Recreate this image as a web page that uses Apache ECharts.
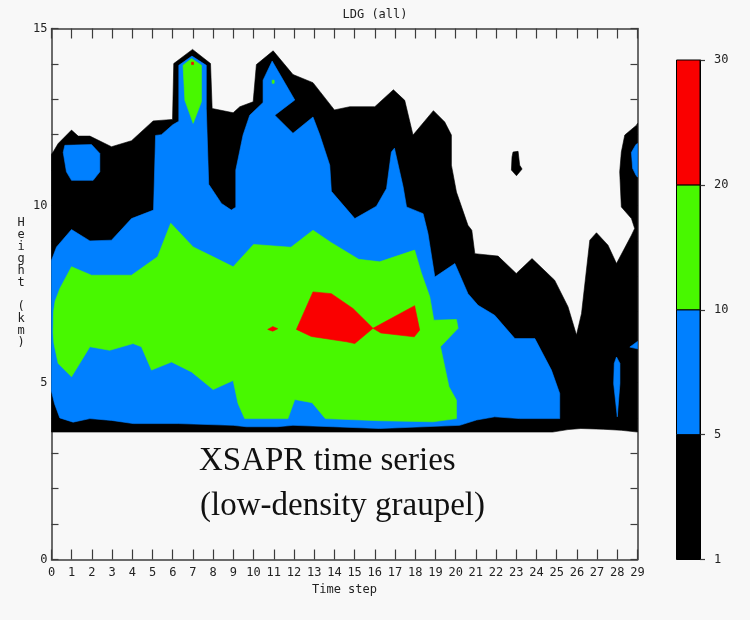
<!DOCTYPE html>
<html>
<head>
<meta charset="utf-8">
<title>LDG (all)</title>
<script src="https://cdn.jsdelivr.net/npm/echarts@6/dist/echarts.min.js"></script>
<style>
  html, body { margin: 0; padding: 0; background: #f8f8f8; }
  #chart { width: 750px; height: 620px; }
</style>
</head>
<body>
<div id="chart"></div>
<script>
// Contour levels of the low-density graupel field and the legend labels
const levels = [1, 5, 10, 20, 30];

// Outlines of the filled contour regions, as [time step, height (km)] vertices.
// Region where the field is >= 1
const ge1Main = [
  [0, 3.6], [0, 11.45], [0.08, 11.51], [0.33, 11.75], [0.99, 12.13], [1.32, 11.96], [1.9, 11.96],
  [2.97, 11.66], [3.96, 11.83], [5.03, 12.39], [5.99, 12.43], [6.05, 14.01], [6.98, 14.41],
  [7.87, 14.01], [7.95, 12.74], [8.99, 12.62], [9.32, 12.79], [9.98, 12.93], [10.14, 13.98],
  [10.97, 14.37], [11.95, 13.7], [12.94, 13.47], [14.0, 12.7], [14.76, 12.79], [16.0, 12.79],
  [16.92, 13.27], [17.48, 12.97], [17.89, 11.99], [18.9, 12.68], [19.46, 12.36], [19.79, 11.99],
  [19.79, 11.14], [20.04, 10.38], [20.61, 9.44], [20.8, 9.3], [20.95, 8.64], [22.1, 8.57],
  [23.0, 8.08], [23.78, 8.5], [24.9, 7.89], [25.56, 7.14], [25.98, 6.34], [26.23, 6.95],
  [26.64, 9.02], [26.97, 9.23], [27.54, 8.88], [27.96, 8.36], [28.7, 9.16], [28.86, 9.35],
  [28.7, 9.63], [28.2, 9.96], [28.12, 10.95], [28.2, 11.51], [28.37, 11.99], [28.95, 12.27],
  [29, 12.32], [29, 3.6], [28.2, 3.65], [27.3, 3.68], [26.2, 3.7], [25.56, 3.67], [24.8, 3.6]
];
const ge1Blob = [
  [22.84, 11.51], [23.09, 11.53], [23.17, 11.14], [23.29, 11.03], [23.01, 10.84], [22.76, 11.0], [22.79, 11.37]
];

// Region where the field is >= 5
const ge5Main = [
  [0, 4.75], [0, 8.45], [0.25, 8.83], [0.99, 9.32], [1.9, 9.0], [2.97, 9.02], [3.96, 9.63],
  [5.05, 9.87], [5.15, 11.98], [5.44, 12.0], [6.0, 12.28], [6.3, 12.38], [6.3, 13.96],
  [6.95, 14.22], [7.66, 13.96], [7.66, 12.75], [7.78, 10.6], [8.41, 10.06], [8.9, 9.87],
  [9.12, 9.95], [9.12, 11.0], [9.48, 11.99], [9.81, 12.55], [10.47, 12.91], [10.47, 13.54],
  [10.92, 14.08], [12.04, 12.98], [11.05, 12.55], [11.95, 12.04], [12.94, 12.5], [13.28, 11.99],
  [13.77, 11.14], [13.85, 10.4], [15.01, 9.63], [16.08, 9.98], [16.58, 10.48], [16.82, 11.51],
  [16.97, 11.62], [17.4, 10.53], [17.57, 9.96], [18.39, 9.77], [18.63, 9.21], [18.97, 7.98],
  [19.96, 8.36], [20.61, 7.51], [21.11, 7.18], [21.93, 6.9], [22.93, 6.24], [23.92, 6.24],
  [24.74, 5.35], [25.15, 4.69], [25.15, 3.98], [23.17, 3.98], [21.93, 4.03], [21.03, 3.94],
  [20.2, 3.79], [16.24, 3.7], [13.94, 3.75], [11.95, 3.79], [11.18, 3.75], [9.65, 3.75],
  [8.99, 3.79], [6.27, 3.84], [4.04, 3.84], [2.97, 3.93], [1.9, 3.98], [1.07, 3.88],
  [0.41, 4.0], [0.15, 4.4]
];
const ge5Blob = [
  [0.58, 11.5], [0.66, 11.7], [1.98, 11.72], [2.39, 11.47], [2.39, 10.95], [2.06, 10.71],
  [0.99, 10.71], [0.74, 10.95]
];
const ge5EdgeHigh = [[28.7, 11.5], [28.92, 11.72], [29, 11.75], [29, 10.8], [28.92, 10.86], [28.76, 11.05]];
const ge5Sliver = [[27.96, 5.72], [28.13, 5.54], [28.13, 4.97], [28.0, 4.03], [27.82, 4.97], [27.85, 5.54]];
const ge5EdgeLow = [[28.62, 6.0], [29, 6.16], [29, 5.95]];

// Region where the field is >= 10
const ge10Main = [
  [0.08, 6.4], [0.1, 7.0], [0.18, 7.3], [0.41, 7.65], [0.99, 8.27], [1.98, 8.03], [3.96, 8.03],
  [5.25, 8.55], [5.9, 9.5], [7.01, 8.83], [8.0, 8.55], [8.99, 8.27], [10.0, 8.9], [11.85, 8.82],
  [12.94, 9.3], [13.85, 8.95], [15.2, 8.48], [16.24, 8.41], [17.97, 8.74], [18.3, 8.1],
  [18.72, 7.42], [18.92, 6.76], [20.04, 6.78], [20.12, 6.53], [19.25, 6.01], [19.67, 4.88],
  [20.04, 4.5], [20.04, 3.98], [18.88, 3.89], [16.24, 3.92], [13.55, 3.98], [12.9, 4.43],
  [12.04, 4.52], [11.7, 3.98], [9.56, 3.98], [9.23, 4.41], [8.99, 5.06], [8.0, 4.8],
  [6.93, 5.3], [5.94, 5.58], [4.95, 5.35], [4.45, 6.01], [4.04, 6.1], [2.88, 5.91],
  [1.9, 6.01], [0.99, 5.16], [0.33, 5.54], [0.12, 6.1]
];
const ge10Spire = [[6.51, 13.96], [6.93, 14.15], [7.42, 13.96], [7.42, 12.93], [7.01, 12.32], [6.6, 12.97]];
const ge10Speck = [[10.92, 13.45], [11.02, 13.45], [11.02, 13.54], [10.92, 13.54]];

// Region where the field is >= 20
const ge20Main = [
  [12.12, 6.5], [12.94, 7.56], [13.85, 7.51], [14.92, 7.09], [15.91, 6.53], [15.01, 6.1],
  [14.6, 6.15], [12.86, 6.3]
];
const ge20East = [[15.91, 6.53], [17.97, 7.17], [18.22, 6.48], [17.95, 6.29], [16.3, 6.4]];
const ge20Sliver = [[10.7, 6.5], [10.95, 6.58], [11.2, 6.52], [10.95, 6.45]];
const ge20Speck = [[6.93, 13.98], [7.03, 13.98], [7.03, 14.05], [6.93, 14.05]];

// Layers painted from the lowest level upwards
const layerPolys = [
  [ge1Main, ge1Blob],
  [ge5Main, ge5Blob, ge5EdgeHigh, ge5Sliver, ge5EdgeLow],
  [ge10Main, ge10Spire, ge10Speck],
  [ge20Main, ge20East, ge20Sliver, ge20Speck]
];

const bandColors = ['#000000', '#0080ff', '#48f800', '#fa0000'];
const axisColor = '#3c3c3c';
const mono = 'DejaVu Sans Mono';

function contourSeries(polys, color) {
  return {
    type: 'custom',
    xAxisIndex: 0,
    yAxisIndex: 0,
    clip: true,
    silent: true,
    data: polys.map(p => p[0]),
    renderItem: function (params, api) {
      const pts = polys[params.dataIndex].map(v => api.coord(v));
      return {
        type: 'polygon',
        shape: { points: pts },
        style: { fill: color, stroke: color, lineWidth: 0.6 }
      };
    }
  };
}

const series = layerPolys.map((polys, i) => contourSeries(polys, bandColors[i]));

// Colour bar: one box per band between consecutive levels
series.push({
  type: 'custom',
  xAxisIndex: 2,
  yAxisIndex: 2,
  silent: true,
  data: bandColors.map((c, i) => [0, i]),
  renderItem: function (params, api) {
    const i = params.dataIndex;
    const p0 = api.coord([0, i]);
    const p1 = api.coord([1, i + 1]);
    return {
      type: 'rect',
      shape: { x: p0[0], y: p1[1], width: p1[0] - p0[0], height: p0[1] - p1[1] },
      style: { fill: bandColors[i], stroke: '#000', lineWidth: 1 }
    };
  }
});

const frameLine = { show: true, onZero: false, lineStyle: { color: axisColor, width: 1.5 } };
const frameTick = (len) => ({ show: true, inside: true, length: len, lineStyle: { color: axisColor, width: 1.2 } });

const chart = echarts.init(document.getElementById('chart'), null, { renderer: 'canvas' });

chart.setOption({
  backgroundColor: '#f8f8f8',
  animation: false,
  grid: [
    { left: 51.5, top: 28.5, width: 586, height: 531 },
    { left: 676.5, top: 60, width: 23.5, height: 499.5 }
  ],
  xAxis: [
    {
      type: 'value', gridIndex: 0, position: 'bottom', min: 0, max: 29, interval: 1,
      name: 'Time step', nameLocation: 'middle', nameGap: 24,
      nameTextStyle: { fontFamily: mono, fontSize: 12, color: '#222' },
      axisLine: frameLine,
      axisTick: frameTick(10),
      axisLabel: { fontFamily: mono, fontSize: 12, color: '#222', margin: 7 },
      splitLine: { show: false }
    },
    {
      type: 'value', gridIndex: 0, position: 'top', min: 0, max: 29, interval: 1,
      axisLine: frameLine,
      axisTick: frameTick(10),
      axisLabel: { show: false },
      splitLine: { show: false }
    },
    {
      type: 'value', gridIndex: 1, min: 0, max: 1, show: false
    }
  ],
  yAxis: [
    {
      type: 'value', gridIndex: 0, position: 'left', min: 0, max: 15, interval: 1,
      axisLine: frameLine,
      axisTick: frameTick(7),
      axisLabel: {
        fontFamily: mono, fontSize: 12, color: '#222', margin: 4,
        formatter: v => (v % 5 === 0 ? String(v) : '')
      },
      splitLine: { show: false }
    },
    {
      type: 'value', gridIndex: 0, position: 'right', min: 0, max: 15, interval: 1,
      axisLine: frameLine,
      axisTick: frameTick(7),
      axisLabel: { show: false },
      splitLine: { show: false }
    },
    {
      type: 'value', gridIndex: 1, position: 'right', min: 0, max: levels.length - 1, interval: 1,
      axisLine: { show: true, onZero: false, lineStyle: { color: '#000', width: 1 } },
      axisTick: { show: true, inside: false, length: 5, lineStyle: { color: axisColor, width: 1.2 } },
      axisLabel: {
        fontFamily: mono, fontSize: 12, color: '#222', margin: 14,
        formatter: v => String(levels[v])
      },
      splitLine: { show: false }
    }
  ],
  graphic: [
    {
      type: 'text', left: 'center', top: 9,
      style: { text: 'LDG (all)', font: '12px "DejaVu Sans Mono"', fill: '#222' },
      z: 10
    },
    {
      type: 'text', x: 21, y: 283,
      style: {
        text: 'Height (km)'.split('').join('\n'),
        font: '12px "DejaVu Sans Mono"', fill: '#222',
        align: 'center', verticalAlign: 'middle', lineHeight: 12
      },
      z: 10
    },
    {
      type: 'text', x: 199, y: 461,
      style: {
        text: 'XSAPR time series', font: '33px "Liberation Serif"', fill: '#111',
        align: 'left', verticalAlign: 'middle'
      },
      z: 10
    },
    {
      type: 'text', x: 200, y: 506,
      style: {
        text: '(low-density graupel)', font: '33px "Liberation Serif"', fill: '#111',
        align: 'left', verticalAlign: 'middle'
      },
      z: 10
    }
  ],
  series: series
});
</script>
</body>
</html>
